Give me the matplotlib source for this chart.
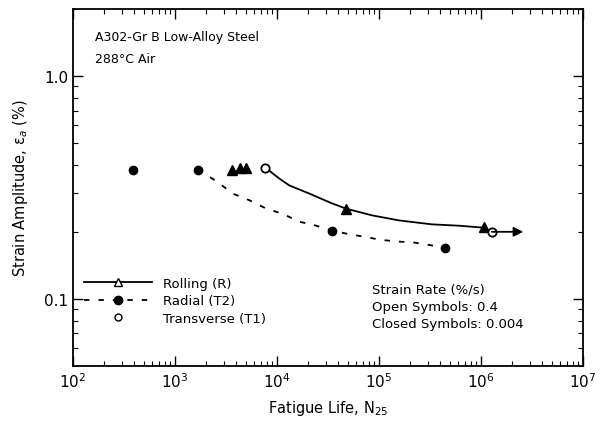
import matplotlib
matplotlib.use("Agg")
import matplotlib.pyplot as plt
from matplotlib.lines import Line2D

# --- data ---
# Rolling (R), closed triangles (0.004 %/s)
rolling_n = [3600, 4300, 5000, 48000, 1.07e6]
rolling_ea = [0.38, 0.385, 0.385, 0.254, 0.211]

# Radial (T2), closed circles
radial_n = [390, 1670, 34800, 443000]
radial_ea = [0.38, 0.38, 0.202, 0.170]

# Transverse (T1), open circles (0.4 %/s)
trans_n = [7700, 1.27e6]
trans_ea = [0.385, 0.200]

# best-fit curves
rolling_fit_n = [7870, 10500, 13200, 20700, 34800, 47700, 85600, 157000,
                 330000, 607000, 1.02e6, 1.28e6]
rolling_fit_ea = [0.385, 0.347, 0.323, 0.297, 0.268, 0.254, 0.237, 0.225,
                  0.216, 0.213, 0.209, 0.200]
radial_fit_n = [1670, 2560, 3670, 5370, 7870, 11300, 16600, 24300, 34800,
                48800, 71500, 105000, 150000, 220000, 323000, 443000]
radial_fit_ea = [0.38, 0.337, 0.297, 0.277, 0.254, 0.241, 0.222, 0.213,
                 0.202, 0.196, 0.190, 0.184, 0.181, 0.179, 0.174, 0.170]

# runout arrow
runout_start = (1.28e6, 0.200)
runout_end = (2.6e6, 0.200)

fig = plt.figure(figsize=(6.01, 4.31), dpi=100)
ax = fig.add_axes([0.1215, 0.1485, 0.8485, 0.8285])

ax.plot(rolling_fit_n, rolling_fit_ea, color="black", lw=1.3)
ax.plot(radial_fit_n, radial_fit_ea, color="black", lw=1.3, dashes=(3, 5))
ax.annotate("", xy=runout_end, xytext=runout_start,
            arrowprops=dict(arrowstyle="-|>", color="black", lw=1.3,
                            mutation_scale=14, shrinkA=0, shrinkB=0))

ax.plot(rolling_n, rolling_ea, "^", color="black", ms=6.5, ls="none")
ax.plot(radial_n, radial_ea, "o", color="black", ms=6, ls="none")
ax.plot(trans_n, trans_ea, "o", mfc="white", mec="black", mew=1.3, ms=6,
        ls="none")

ax.set_xscale("log")
ax.set_yscale("log")
ax.set_xlim(1e2, 1e7)
ax.set_ylim(0.05, 2.0)

ax.set_yticks([0.1, 1.0])
ax.set_yticklabels(["0.1", "1.0"])
ax.tick_params(which="both", direction="in", top=True, right=True,
               labelsize=11, colors="black")
ax.tick_params(which="major", length=7, width=1)
ax.tick_params(which="minor", length=3.5, width=0.8)
for s in ax.spines.values():
    s.set_linewidth(1.3)

ax.set_xlabel("Fatigue Life, N$_{25}$", fontsize=10.5, labelpad=6)
ax.set_ylabel("Strain Amplitude, \u03b5$_a$ (%)", fontsize=10.5, labelpad=10)

ax.text(0.043, 0.922, "A302-Gr B Low-Alloy Steel", transform=ax.transAxes,
        fontsize=9, va="center")
ax.text(0.043, 0.862, "288\u00b0C Air", transform=ax.transAxes,
        fontsize=9, va="center")

for yf, txt in zip([0.216, 0.168, 0.120],
                   ["Strain Rate (%/s)", "Open Symbols: 0.4",
                    "Closed Symbols: 0.004"]):
    ax.text(0.586, yf, txt, transform=ax.transAxes, fontsize=9.5, va="center")

handles = [
    Line2D([], [], color="black", lw=1.3, marker="^", mfc="white",
           mec="black", ms=6),
    Line2D([], [], color="black", lw=1.3, dashes=(3, 5), marker="o", ms=6),
    Line2D([], [], ls="none", marker="o", mfc="white", mec="black", ms=5),
]
ax.legend(handles, ["Rolling (R)", "Radial (T2)", "Transverse (T1)"],
          loc="lower left", bbox_to_anchor=(0.0, 0.085), frameon=False,
          fontsize=9.5, handlelength=5.2, labelspacing=0.35, borderpad=0.3)

fig.savefig("out.png", dpi=100)
